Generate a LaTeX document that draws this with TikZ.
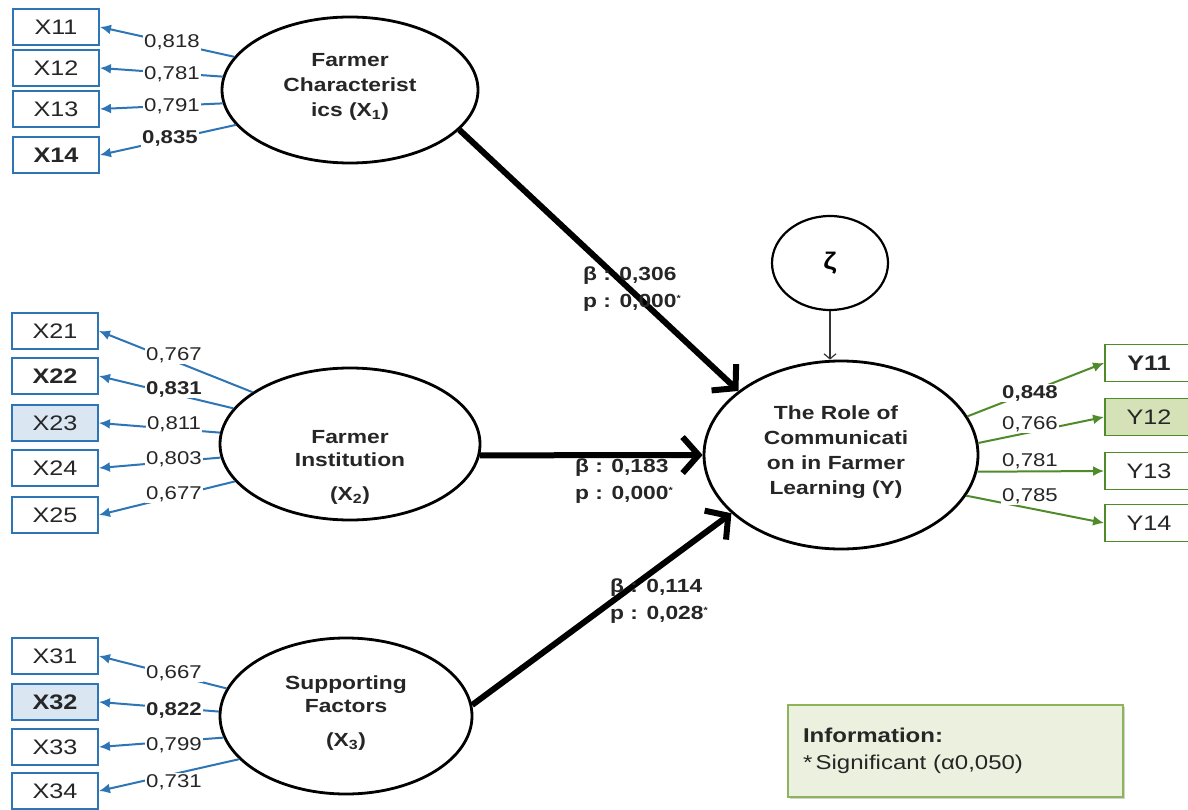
\documentclass[tikz,border=0pt]{standalone}
\usepackage{fontspec}
\setmainfont{Liberation Sans}[FakeStretch=1.2]
\usetikzlibrary{arrows.meta,shapes.geometric,shadows}
\definecolor{lblue}{HTML}{2E75B6}
\definecolor{bfill}{HTML}{DAE7F3}
\definecolor{lgreen}{HTML}{4F8A2B}
\definecolor{gfill}{HTML}{D5E2B8}
\definecolor{infofill}{HTML}{EBF1DE}
\definecolor{infoline}{HTML}{8DB35B}
\newcommand\sigmark{\textsuperscript{\fontsize{9}{9}\selectfont *}}
\begin{document}
\begin{tikzpicture}[x=1pt,y=-1pt,
  latent/.style={draw=black,line width=2.8pt,ellipse,inner sep=0pt,fill=white},
  lattext/.style={font=\fontsize{19}{25}\selectfont\bfseries,align=center,text=black!85,inner sep=0pt},
  xbox/.style={draw=lblue,line width=1.9pt,minimum width=86pt,minimum height=36pt,inner sep=0pt,font=\fontsize{21}{24}\selectfont,fill=white,text=black!85},
  ybox/.style={draw=lgreen,line width=1.9pt,minimum width=88pt,minimum height=37pt,inner sep=0pt,font=\fontsize{21}{24}\selectfont,fill=white,text=black!85},
  bload/.style={draw=lblue,line width=2pt,-{Latex[length=11pt,width=10pt]}},
  gload/.style={draw=lgreen,line width=2pt,-{Latex[length=11pt,width=10pt]}},
  ldlab/.style={fill=white,inner sep=1pt,font=\fontsize{18.5}{20}\selectfont,text=black!85},
  structarrow/.style={draw=black,line width=6pt,-{Straight Barb[length=16pt,width=36pt]}},
  coef/.style={font=\fontsize{19}{27}\selectfont\bfseries,align=left,text=black!85,inner sep=0pt,anchor=west},
  infobox/.style={draw=infoline,line width=1.6pt,fill=infofill,minimum width=335pt,minimum height=92pt,text width=305pt,align=left,font=\fontsize{20}{27}\selectfont,text=black!85,drop shadow={shadow xshift=2pt,shadow yshift=-2pt,fill=black!35}}
]
\useasboundingbox (0,0) rectangle (1188,810);
\fill[white] (0,0) rectangle (1188,810);

% latent variables
\node[latent,minimum width=256pt,minimum height=146pt] (x1) at (350,90) {};
\node[latent,minimum width=260pt,minimum height=152pt] (x2) at (350,444) {};
\node[latent,minimum width=252pt,minimum height=156pt] (x3) at (346,716) {};
\node[latent,minimum width=274pt,minimum height=188pt] (y) at (841,455) {};
\node[latent,line width=2.2pt,minimum width=116pt,minimum height=94pt,font=\fontsize{24}{24}\selectfont\bfseries] (z) at (830,263) {ζ};

\node[lattext] (x1t) at (350,87) {Farmer\\Characterist\\ics (X\textsubscript{1})};
\node[lattext] (x2t) at (350,467) {Farmer\\[-2pt]Institution\\[9pt](X\textsubscript{2})};
\node[lattext] (x3t) at (346,713) {Supporting\\[-2pt]Factors\\[9pt](X\textsubscript{3})};
\node[lattext] (yt) at (836,452) {The Role of\\Communicati\\on in Farmer\\Learning (Y)};

% indicator boxes
\node[xbox] (b11) at (56,27) {X11};
\node[xbox] (b12) at (56,68) {X12};
\node[xbox] (b13) at (56,109) {X13};
\node[xbox,font=\fontsize{21}{24}\selectfont\bfseries] (b14) at (56,155) {X14};

\node[xbox] (b21) at (55,331) {X21};
\node[xbox,font=\fontsize{21}{24}\selectfont\bfseries] (b22) at (55,376) {X22};
\node[xbox,fill=bfill] (b23) at (55,423) {X23};
\node[xbox] (b24) at (55,468) {X24};
\node[xbox] (b25) at (55,515) {X25};

\node[xbox] (b31) at (55,656) {X31};
\node[xbox,fill=bfill,font=\fontsize{21}{24}\selectfont\bfseries] (b32) at (55,702) {X32};
\node[xbox] (b33) at (55,747) {X33};
\node[xbox] (b34) at (55,791) {X34};

\node[ybox,font=\fontsize{21}{24}\selectfont\bfseries] (c11) at (1149,363) {Y11};
\node[ybox,fill=gfill] (c12) at (1149,417) {Y12};
\node[ybox] (c13) at (1149,471) {Y13};
\node[ybox] (c14) at (1149,523) {Y14};

% loadings X1
\draw[bload] (x1.164) -- (b11.east);
\draw[bload] (x1.174) -- (b12.east);
\draw[bload] (x1.186) -- (b13.east);
\draw[bload] (x1.197) -- (b14.east);
\node[ldlab] (l11) at (172,42) {0,818};
\node[ldlab] (l12) at (172,74) {0,781};
\node[ldlab] (l13) at (172,106) {0,791};
\node[ldlab,font=\fontsize{18.5}{20}\selectfont\bfseries] (l14) at (170,138) {0,835};

% loadings X2
\draw[bload] (x2.152) -- (b21.east);
\draw[bload] (x2.163) -- (b22.east);
\draw[bload] (x2.175) -- (b23.east);
\draw[bload] (x2.186) -- (b24.east);
\draw[bload] (x2.198) -- (b25.east);
\node[ldlab] (l21) at (174,355) {0,767};
\node[ldlab,font=\fontsize{18.5}{20}\selectfont\bfseries] (l22) at (174,389) {0,831};
\node[ldlab] (l23) at (174,424) {0,811};
\node[ldlab] (l24) at (174,459) {0,803};
\node[ldlab] (l25) at (174,494) {0,677};

% loadings X3
\draw[bload] (x3.167) -- (b31.east);
\draw[bload] (x3.178) -- (b32.east);
\draw[bload] (x3.190) -- (b33.east);
\draw[bload] (x3.202) -- (b34.east);
\node[ldlab] (l31) at (174,673) {0,667};
\node[ldlab,font=\fontsize{18.5}{20}\selectfont\bfseries] (l32) at (174,710) {0,822};
\node[ldlab] (l33) at (174,745) {0,799};
\node[ldlab] (l34) at (174,782) {0,731};

% loadings Y
\draw[gload] (y.17) -- (c11.west);
\draw[gload] (y.5) -- (c12.west);
\draw[gload] (y.353) -- (c13.west);
\draw[gload] (y.342) -- (c14.west);
\node[ldlab,font=\fontsize{18.5}{20}\selectfont\bfseries] (m11) at (1030,393) {0,848};
\node[ldlab] (m12) at (1030,424) {0,766};
\node[ldlab] (m13) at (1030,461) {0,781};
\node[ldlab] (m14) at (1030,496) {0,785};

% structural paths
\draw[structarrow] (x1.340) -- (y.148);
\draw[structarrow] (x2.355) -- (y.180);
\draw[structarrow] (x3.5) -- (y.208);
\draw[draw=black!80,line width=1.2pt,-{Straight Barb[length=5pt,width=12pt]}] (z.south) -- (z.south |- y.north);

\node[coef] (p1) at (583,289) {β : 0,306\\p : 0,000\sigmark};
\node[coef] (p2) at (575,481) {β : 0,183\\p : 0,000\sigmark};
\node[coef] (p3) at (610,601) {β : 0,114\\p : 0,028\sigmark};

% information
\node[infobox] (info) at (955.5,751) {\textbf{Information:}\\{*}\,Significant (α0,050)};
\end{tikzpicture}
\end{document}
